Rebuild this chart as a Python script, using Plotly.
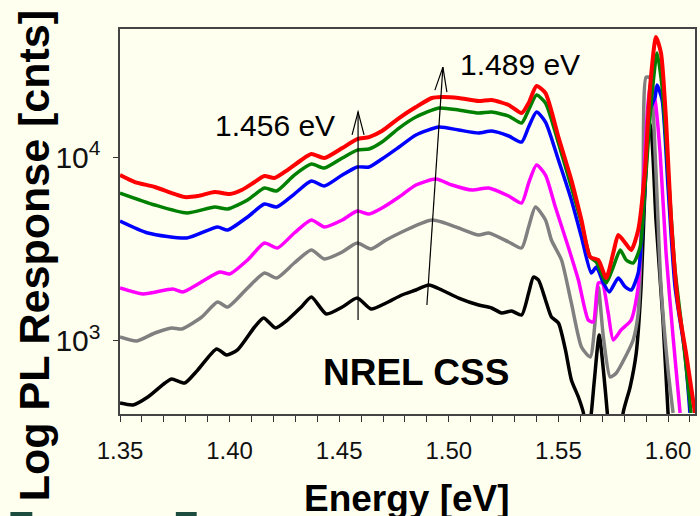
import plotly.graph_objects as go

# ---------------- data (energy in eV, PL counts) ----------------
red_e = [1.3500, 1.3568, 1.3659, 1.3795, 1.3855, 1.3932, 1.4000, 1.4055, 1.4114, 1.4159, 1.4205, 1.4264,
         1.4327, 1.4373, 1.4432, 1.4514, 1.4582, 1.4636, 1.4695, 1.4773, 1.4850, 1.4923, 1.4968, 1.5045,
         1.5136, 1.5195, 1.5273, 1.5332, 1.5364, 1.5400, 1.5441, 1.5500, 1.5559, 1.5605, 1.5645, 1.5682,
         1.5718, 1.5750, 1.5773, 1.5805, 1.5832, 1.5864, 1.5895, 1.5918, 1.5945, 1.5968, 1.5991, 1.6014,
         1.6045, 1.6082, 1.6123]
red_c = [7983, 7313, 6870, 6061, 6137, 6452, 6293, 6616, 7313, 7884, 7689, 8497,
         9631, 10380, 9876, 11190, 12530, 12840, 13840, 16290, 18700, 20930, 21190, 20930,
         20150, 20410, 19170, 17340, 19660, 24320, 22270, 12840, 7499, 4546, 2861, 2755,
         2199, 3008, 3769, 3409, 3123, 4011, 8497, 24020, 44880, 36750, 15890, 4546,
         1609, 861, 406]

green_e = [1.3500, 1.3659, 1.3805, 1.3932, 1.3991, 1.4082, 1.4159, 1.4214, 1.4295, 1.4373, 1.4432, 1.4514,
           1.4582, 1.4636, 1.4695, 1.4773, 1.4850, 1.4955, 1.5045, 1.5136, 1.5195, 1.5273, 1.5332, 1.5364,
           1.5400, 1.5441, 1.5500, 1.5559, 1.5605, 1.5645, 1.5673, 1.5718, 1.5750, 1.5782, 1.5809, 1.5841,
           1.5873, 1.5895, 1.5923, 1.5950, 1.5973, 1.6000, 1.6032, 1.6068, 1.6105]
green_c = [6372, 5484, 4962, 5349, 5217, 5837, 6784, 6535, 7983, 9162, 8713, 9876,
           10910, 11050, 12060, 14370, 16500, 18460, 18010, 17340, 17560, 16700, 15300, 18010,
           21730, 19660, 11920, 6870, 4377, 2861, 2687, 2066, 2524, 3123, 2755, 2654,
           3243, 6870, 19660, 36750, 24020, 8497, 2431, 1051, 406]

blue_e = [1.3500, 1.3627, 1.3805, 1.3945, 1.3991, 1.4082, 1.4159, 1.4214, 1.4295, 1.4373, 1.4432, 1.4514,
          1.4582, 1.4636, 1.4695, 1.4773, 1.4850, 1.4955, 1.5045, 1.5136, 1.5195, 1.5273, 1.5332, 1.5364,
          1.5400, 1.5441, 1.5500, 1.5559, 1.5605, 1.5650, 1.5673, 1.5705, 1.5732, 1.5773, 1.5805, 1.5832,
          1.5864, 1.5891, 1.5918, 1.5941, 1.5950, 1.5973, 1.6000, 1.6032, 1.6077, 1.6100]
blue_c = [4488, 3864, 3630, 4165, 4011, 4721, 5553, 5349, 6293, 7405, 6956, 7983,
          8824, 8824, 9752, 11330, 13170, 14550, 14020, 13500, 13840, 13010, 12060, 14550,
          17560, 15500, 9631, 5837, 3676, 2342, 2524, 2066, 1846, 2199, 1966, 1893,
          2342, 5623, 18010, 21190, 24620, 20410, 6870, 1966, 861, 406]

magenta_e = [1.3500, 1.3605, 1.3741, 1.3786, 1.3955, 1.4000, 1.4082, 1.4159, 1.4218, 1.4295, 1.4373, 1.4432,
             1.4514, 1.4582, 1.4636, 1.4695, 1.4773, 1.4850, 1.4941, 1.5014, 1.5105, 1.5182, 1.5273, 1.5332,
             1.5364, 1.5400, 1.5441, 1.5486, 1.5545, 1.5591, 1.5636, 1.5659, 1.5682, 1.5700, 1.5727, 1.5750,
             1.5786, 1.5832, 1.5864, 1.5886, 1.5909, 1.5923, 1.5941, 1.5964, 1.5991, 1.6023, 1.6055]
magenta_c = [1941, 1800, 1917, 1846, 2371, 2313, 2755, 3409, 3202, 3864, 4546, 4165,
             4546, 5088, 4900, 5282, 6061, 7043, 7593, 7043, 6616, 6784, 6137, 5623,
             7222, 9047, 7983, 5349, 3243, 2145, 1300, 1268, 2066, 2066, 1420, 1013,
             1148, 1300, 1966, 6870, 19660, 26210, 20410, 10510, 3008, 1051, 406]

gray_e = [1.3500, 1.3577, 1.3659, 1.3736, 1.3782, 1.3873, 1.3945, 1.3991, 1.4082, 1.4159, 1.4214, 1.4295,
          1.4373, 1.4432, 1.4514, 1.4582, 1.4645, 1.4714, 1.4805, 1.4877, 1.4923, 1.4968, 1.5045, 1.5136,
          1.5182, 1.5273, 1.5332, 1.5364, 1.5395, 1.5441, 1.5468, 1.5514, 1.5559, 1.5605, 1.5645, 1.5668,
          1.5682, 1.5705, 1.5736, 1.5764, 1.5805, 1.5841, 1.5864, 1.5886, 1.5900, 1.5918, 1.5941, 1.5968,
          1.6000, 1.6023]
gray_c = [1051, 1000, 1105, 1177, 1162, 1350, 1629, 1530, 1941, 2342, 2199, 2654,
          3123, 2791, 3046, 3409, 3162, 3540, 4011, 4377, 4546, 4433, 4113, 3769,
          3864, 3452, 3202, 4165, 5349, 4546, 3540, 2755, 1609, 928, 818, 1300,
          1966, 1051, 637, 670, 818, 1013, 1420, 6870, 27210, 26870, 10510, 1966,
          696, 406]

black_e = [1.3500, 1.3559, 1.3627, 1.3705, 1.3736, 1.3795, 1.3855, 1.3941, 1.3986, 1.4036, 1.4114, 1.4155,
           1.4209, 1.4264, 1.4327, 1.4373, 1.4441, 1.4514, 1.4582, 1.4645, 1.4714, 1.4786, 1.4850, 1.4909,
           1.4968, 1.5045, 1.5136, 1.5195, 1.5241, 1.5286, 1.5332, 1.5364, 1.5386, 1.5409, 1.5441, 1.5468,
           1.5500, 1.5532, 1.5559, 1.5591, 1.5614, 1.5627, 1.5650, 1.5664, 1.5686, 1.5705, 1.5723, 1.5736,
           1.5773, 1.5795, 1.5827, 1.5855, 1.5877, 1.5895, 1.5909, 1.5923, 1.5945, 1.5977, 1.6000, 1.6014]
black_c = [460, 449, 496, 591, 622, 591, 696, 905, 839, 894, 1191, 1334,
           1177, 1300, 1530, 1734, 1402, 1530, 1712, 1492, 1609, 1778, 1893, 2015,
           1893, 1712, 1569, 1511, 1420, 1455, 1384, 1823, 2227, 2145, 1671, 1350,
           1253, 894, 614, 496, 406, 250, 406, 614, 1078, 696, 406, 250,
           200, 406, 562, 861, 1966, 6870, 15890, 14020, 4546, 1300, 406, 250]

series = [
    ("black", black_e, black_c, "#000000", 3.5),
    ("gray", gray_e, gray_c, "#808080", 3.5),
    ("magenta", magenta_e, magenta_c, "#FF00FF", 3.5),
    ("blue", blue_e, blue_c, "#0000FF", 3.5),
    ("green", green_e, green_c, "#008000", 3.5),
    ("red", red_e, red_c, "#FF0000", 4),
]

# arrows: (base energy, base counts, tip energy, tip counts)
arrow1 = (1.4586, 1301, 1.4586, 17600)
arrow2 = (1.4900, 1570, 1.4973, 30800)

x_ticks = [1.35, 1.40, 1.45, 1.50, 1.55, 1.60]
x_range = [1.35, 1.6123]
y_log_range = [2.603, 4.696]

FONT = "Arial, Liberation Sans, sans-serif"
BG = "#FFFFF0"

fig = go.Figure()
for name, e, c, col, w in series:
    fig.add_trace(go.Scatter(x=e, y=c, mode="lines", name=name,
                             line=dict(color=col, width=w, shape="spline", smoothing=0.6),
                             showlegend=False, hoverinfo="skip"))

shapes = []
for (x0, y0, x1, y1), head in [(arrow1, "M -6,-23 L 0,0 L 6,-23"), (arrow2, "M -8,-23 L 0,0 L 4,-25")]:
    shapes.append(dict(type="line", xref="x", yref="y", x0=x0, y0=y0, x1=x1, y1=y1,
                       line=dict(color="black", width=1.2)))
    shapes.append(dict(type="path", xref="x", yref="y", xsizemode="pixel", ysizemode="pixel",
                       xanchor=x1, yanchor=y1, path=head, line=dict(color="black", width=1.2)))

# small cut-off slide decorations at bottom-left
shapes.append(dict(type="path", xref="paper", yref="paper",
                   path="M -0.1906,-0.2545 L -0.1525,-0.2545 L -0.1525,-0.2649 L -0.1906,-0.2649 Z",
                   fillcolor="#1d4d3e", line=dict(width=0)))
shapes.append(dict(type="path", xref="paper", yref="paper",
                   path="M 0.0971,-0.2545 L 0.1334,-0.2545 L 0.1334,-0.2649 L 0.0971,-0.2649 Z",
                   fillcolor="#1d4d3e", line=dict(width=0)))


def ann(text, px, py, size, angle=0):
    return dict(text=text, x=(px - 120) / 577, y=(414 - py) / 385, xref="paper", yref="paper",
                xanchor="center", yanchor="middle", textangle=angle, showarrow=False,
                font=dict(size=size, color="black", family=FONT))


annotations = [
    ann("1.456 eV", 276, 126, 30),
    ann("1.489 eV", 521, 64, 30),
    ann("<b>NREL CSS</b>", 417, 372, 37),
    ann("<b>Log PL Response [cnts]</b>", 34, 256, 43, -90),
    ann("<b>Energy [eV]</b>", 408, 498, 37),
]

fig.update_layout(
    width=700, height=516,
    margin=dict(l=120, r=3, t=29, b=102),
    paper_bgcolor=BG, plot_bgcolor=BG,
    font=dict(family=FONT, color="black"),
    shapes=shapes, annotations=annotations,
    xaxis=dict(range=x_range, tickvals=x_ticks, ticktext=[f"{v:.2f}" for v in x_ticks],
               ticks="outside", ticklen=6, tickcolor="#333", tickwidth=1,
               minor=dict(dtick=0.01, tick0=1.35, ticks="outside", ticklen=6, tickcolor="#333"),
               showline=True, linecolor="#444", linewidth=1.5, mirror=True,
               showgrid=False, zeroline=False, tickfont=dict(size=24, color="#111"),
               ticklabelstandoff=8),
    yaxis=dict(type="log", range=y_log_range, dtick=1, exponentformat="power",
               ticks="outside", ticklen=5, tickcolor="#333",
               showline=True, linecolor="#444", linewidth=1.5, mirror=True,
               showgrid=False, zeroline=False, tickfont=dict(size=24, color="#111"),
               ticklabelstandoff=8),
)

fig.write_html("out.html")
